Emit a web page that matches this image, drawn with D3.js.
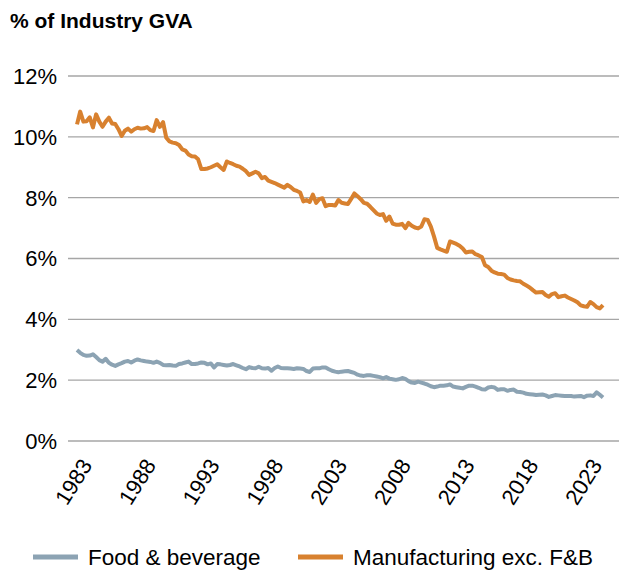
<!DOCTYPE html>
<html lang="en">
<head>
    <meta charset="UTF-8">
    <title>% of Industry GVA</title>
    <script src="https://d3js.org/d3.v7.min.js"></script>
    <style>
        body { margin: 0; background: #fff; font-family: Arial, "Liberation Sans", sans-serif; }
        .title { font-size: 21px; font-weight: bold; }
        .tick-label { font-size: 22px; fill: #000; }
        .legend-label { font-size: 22.5px; fill: #000; }
    </style>
</head>
<body>
    <div id="chart"></div>

    <script>
        // quarterly series, first point 1983 Q1
        const firstYear = 1983;
        const yearTicks = [1983, 1988, 1993, 1998, 2003, 2008, 2013, 2018, 2023];
        const yTicks = [0, 2, 4, 6, 8, 10, 12];

        const foodBev = [
            2.99, 2.90, 2.83, 2.80, 2.81, 2.85, 2.76, 2.66, 2.61, 2.70,
            2.57, 2.51, 2.47, 2.52, 2.56, 2.61, 2.63, 2.58, 2.64, 2.68,
            2.65, 2.63, 2.61, 2.60, 2.57, 2.61, 2.57, 2.50, 2.49, 2.50,
            2.48, 2.47, 2.53, 2.55, 2.58, 2.61, 2.53, 2.53, 2.55, 2.58,
            2.57, 2.52, 2.55, 2.42, 2.53, 2.52, 2.50, 2.48, 2.50, 2.53,
            2.49, 2.45, 2.40, 2.36, 2.43, 2.40, 2.39, 2.44, 2.39, 2.38,
            2.40, 2.31, 2.40, 2.45, 2.40, 2.39, 2.39, 2.38, 2.37, 2.39,
            2.38, 2.37, 2.30, 2.27, 2.38, 2.39, 2.39, 2.42, 2.42, 2.36,
            2.31, 2.28, 2.26, 2.28, 2.29, 2.30, 2.27, 2.24, 2.18, 2.15,
            2.14, 2.16, 2.16, 2.14, 2.12, 2.10, 2.06, 2.10, 2.05, 2.03,
            2.01, 2.03, 2.07, 2.04, 1.97, 1.92, 1.91, 1.95, 1.92, 1.89,
            1.85, 1.80, 1.77, 1.79, 1.82, 1.82, 1.83, 1.86, 1.79, 1.77,
            1.75, 1.73, 1.78, 1.82, 1.82, 1.79, 1.75, 1.70, 1.69, 1.76,
            1.78, 1.76, 1.68, 1.70, 1.70, 1.65, 1.68, 1.69, 1.62, 1.61,
            1.59, 1.55, 1.54, 1.53, 1.51, 1.52, 1.53, 1.50, 1.45, 1.48,
            1.51, 1.50, 1.49, 1.48, 1.48, 1.48, 1.46, 1.47, 1.48, 1.44,
            1.49, 1.50, 1.48, 1.60, 1.52, 1.43
        ];

        const manufExFB = [
            10.41, 10.83, 10.50, 10.51, 10.64, 10.31, 10.74, 10.50, 10.33, 10.50,
            10.63, 10.44, 10.42, 10.25, 10.03, 10.20, 10.27, 10.17, 10.25, 10.30,
            10.27, 10.28, 10.32, 10.22, 10.19, 10.55, 10.33, 10.48, 9.97, 9.85,
            9.81, 9.79, 9.73, 9.59, 9.55, 9.42, 9.36, 9.35, 9.26, 8.94,
            8.94, 8.96, 9.00, 9.05, 9.10, 9.00, 8.91, 9.19, 9.14, 9.10,
            9.05, 9.02, 8.95, 8.87, 8.75, 8.80, 8.85, 8.80, 8.64, 8.68,
            8.56, 8.52, 8.48, 8.43, 8.38, 8.33, 8.42, 8.35, 8.26, 8.22,
            8.17, 7.88, 7.92, 7.86, 8.10, 7.83, 7.95, 7.98, 7.72, 7.76,
            7.76, 7.74, 7.92, 7.83, 7.81, 7.79, 7.96, 8.14, 8.05, 7.95,
            7.83, 7.80, 7.70, 7.59, 7.48, 7.43, 7.46, 7.24, 7.38, 7.15,
            7.11, 7.11, 7.14, 7.00, 7.17, 7.08, 7.02, 6.99, 7.05, 7.29,
            7.27, 7.05, 6.72, 6.35, 6.30, 6.26, 6.22, 6.56, 6.52, 6.48,
            6.42, 6.33, 6.20, 6.22, 6.23, 6.14, 6.10, 6.05, 5.78, 5.72,
            5.60, 5.54, 5.50, 5.49, 5.47, 5.36, 5.31, 5.28, 5.26, 5.25,
            5.17, 5.11, 5.05, 4.96, 4.88, 4.89, 4.90, 4.80, 4.74, 4.83,
            4.86, 4.73, 4.76, 4.78, 4.72, 4.67, 4.62, 4.56, 4.46, 4.43,
            4.41, 4.57, 4.50, 4.40, 4.36, 4.47
        ];

        const seriesNames = ["Food & beverage", "Manufacturing exc. F&B"];
        const seriesColors = ["#8ca3b3", "#d8812f"];

        const quarters = foodBev.map((d, i) => firstYear + i / 4);

        const width = 619, height = 570;
        const plot = { left: 68, right: 619, top: 76, bottom: 441 };

        const svg = d3.select("#chart")
            .append("svg")
            .attr("width", width)
            .attr("height", height);

        const x = d3.scaleLinear()
            .domain([quarters[0], quarters[quarters.length - 1]])
            .range([77, 603]);

        const y = d3.scaleLinear()
            .domain([0, 12])
            .range([plot.bottom, plot.top]);

        // title
        svg.append("text")
            .attr("class", "title")
            .attr("x", 10)
            .attr("y", 28)
            .text("% of Industry GVA");

        // gridlines + y labels
        svg.selectAll(".grid")
            .data(yTicks)
            .enter().append("line")
            .attr("class", "grid")
            .attr("x1", plot.left)
            .attr("x2", plot.right)
            .attr("y1", d => y(d))
            .attr("y2", d => y(d))
            .attr("stroke", "#a6a6a6")
            .attr("stroke-width", 1.3);

        svg.selectAll(".ylab")
            .data(yTicks)
            .enter().append("text")
            .attr("class", "tick-label ylab")
            .attr("x", 57)
            .attr("y", d => y(d))
            .attr("dy", "0.36em")
            .attr("text-anchor", "end")
            .text(d => d + "%");

        // x labels, rotated
        svg.selectAll(".xlab")
            .data(yearTicks)
            .enter().append("text")
            .attr("class", "tick-label xlab")
            .attr("text-anchor", "end")
            .attr("transform", d => `translate(${x(d) + 16},${465}) rotate(-58)`)
            .text(d => d);

        // lines
        const line = d3.line()
            .x((d, i) => x(quarters[i]))
            .y(d => y(d));

        [foodBev, manufExFB].forEach((s, k) => {
            svg.append("path")
                .datum(s)
                .attr("fill", "none")
                .attr("stroke", seriesColors[k])
                .attr("stroke-width", 4)
                .attr("stroke-linejoin", "round")
                .attr("d", line);
        });

        // legend
        const legendX = [33, 298];
        const legend = svg.selectAll(".legend")
            .data(seriesNames)
            .enter().append("g")
            .attr("class", "legend")
            .attr("transform", (d, i) => `translate(${legendX[i]},557)`);

        legend.append("line")
            .attr("x1", 0)
            .attr("x2", 45)
            .attr("stroke", (d, i) => seriesColors[i])
            .attr("stroke-width", 5);

        legend.append("text")
            .attr("class", "legend-label")
            .attr("x", 55)
            .attr("y", 8)
            .text(d => d);
    </script>
</body>
</html>
